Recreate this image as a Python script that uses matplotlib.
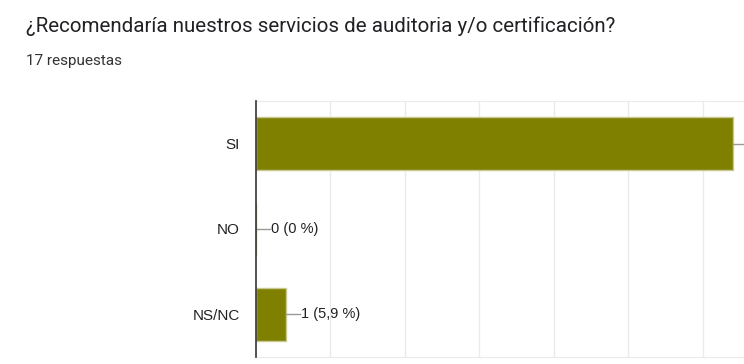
import matplotlib.pyplot as plt

categories = ['SI', 'NO', 'NS/NC']
counts = [16, 0, 1]
total = 17
title = '¿Recomendaría nuestros servicios de auditoria y/o certificación?'
subtitle = '17 respuestas'

fig = plt.figure(figsize=(7.44, 3.64), dpi=100)
fig.text(26 / 744, 1 - 26 / 364, title, fontsize=14.8, family='Roboto',
         color='#202124', va='center')
fig.text(26 / 744, 1 - 61 / 364, subtitle, fontsize=11, family='Roboto',
         color='#333333', va='center')

ax = fig.add_axes([256 / 744, 7 / 364, 488 / 744, 256 / 364])
ypos = list(range(len(categories)))
ax.barh(ypos, counts, height=0.62, color='#808000', edgecolor='#c8c890',
        linewidth=1, zorder=3)
ax.set_ylim(2.5, -0.5)
ax.set_xlim(0, 16.38)
ax.set_yticks(ypos)
ax.set_yticklabels(categories, family='Liberation Sans', fontsize=11,
                   color='#222222')
ax.tick_params(axis='y', length=0, pad=11.5)
ax.set_xticks([2.5 * i for i in range(1, 7)])
ax.tick_params(axis='x', length=0, labelbottom=False)
ax.grid(axis='x', color='#ebebeb', linewidth=1, zorder=0)

for s in ['top', 'bottom']:
    ax.spines[s].set_color('#ebebeb')
ax.spines['right'].set_visible(False)
ax.spines['left'].set_color('#333333')
ax.spines['left'].set_linewidth(1.2)
ax.spines['left'].set_zorder(4)

unit = 488 / 16.38
for y, c in zip(ypos, counts):
    lead = 14 / unit
    ax.plot([c, c + lead], [y, y], color='#999999', linewidth=1, zorder=4,
            clip_on=False)
    pct = '%.1f' % (100 * c / total)
    pct = pct.rstrip('0').rstrip('.').replace('.', ',')
    ax.text(c + lead + 1 / unit, y, '%d (%s %%)' % (c, pct), va='center',
            ha='left', family='Liberation Sans', fontsize=10.5,
            color='#222222', zorder=5)

fig.savefig('out.png', dpi=100)
